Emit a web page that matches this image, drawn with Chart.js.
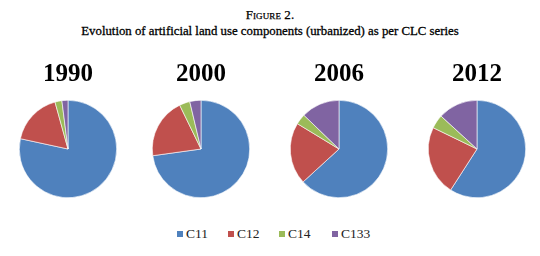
<!DOCTYPE html>
<html><head><meta charset="utf-8">
<script src="https://cdn.jsdelivr.net/npm/chart.js@4"></script>
<style>
html,body{margin:0;padding:0;background:#fff;width:540px;height:256px;overflow:hidden;font-family:"Liberation Serif",serif;color:#000}
.h1{position:absolute;left:0;width:540px;text-align:center;top:7px;font-size:13px;font-variant:small-caps;letter-spacing:0.1px;-webkit-text-stroke:0.25px #000}
.h2{position:absolute;left:0;width:540px;text-align:center;top:24px;font-size:12.8px;-webkit-text-stroke:0.3px #000}
.c{position:absolute;top:60px;width:130px;height:138px}
.lg{position:absolute;top:225px;left:0;width:540px;height:18px;font-size:13.5px;color:#222}
.it{position:absolute;top:0;line-height:18px}
.sq{display:inline-block;width:6px;height:6px;margin-right:3px;vertical-align:1px}
</style></head><body>
<div class="h1">Figure 2.</div>
<div class="h2">Evolution of artificial land use components (urbanized) as per CLC series</div>
<div class="c" style="left:3px"><canvas id="c0"></canvas></div>
<div class="c" style="left:136px"><canvas id="c1"></canvas></div>
<div class="c" style="left:274px"><canvas id="c2"></canvas></div>
<div class="c" style="left:412px"><canvas id="c3"></canvas></div>
<div class="lg" id="lg"></div>
<script>
const years = ["1990","2000","2006","2012"];
const categories = ["C11","C12","C14","C133"];
const v1990 = [78.4,17.3,2.3,2.0];
const v2000 = [72.8,20.0,3.5,3.7];
const v2006 = [63.2,20.5,3.5,12.8];
const v2012 = [59.1,23.1,4.6,13.2];
const series = [v1990,v2000,v2006,v2012];
const colors = ["#4F81BD","#C0504D","#9BBB59","#8064A2"];

series.forEach((vals,i)=>{
  new Chart(document.getElementById("c"+i),{
    type:"pie",
    data:{labels:categories,datasets:[{data:vals,backgroundColor:colors,borderColor:"#ffffff",borderWidth:0.6}]},
    options:{
      responsive:true,maintainAspectRatio:false,animation:false,
      layout:{padding:0},
      plugins:{
        legend:{display:false},
        tooltip:{enabled:false},
        title:{display:true,text:years[i],color:"#000",
          font:{family:"Liberation Serif",size:25,weight:"bold",lineHeight:1.2},
          padding:{top:0,bottom:10}}
      }
    }
  });
});
const lg=document.getElementById("lg");
const xs=[177,228,279,332];
categories.forEach((c,i)=>{
  const d=document.createElement("div");d.className="it";d.style.left=xs[i]+"px";
  d.innerHTML='<span class="sq" style="background:'+colors[i]+'"></span>'+c;
  lg.appendChild(d);
});
</script>
</body></html>
